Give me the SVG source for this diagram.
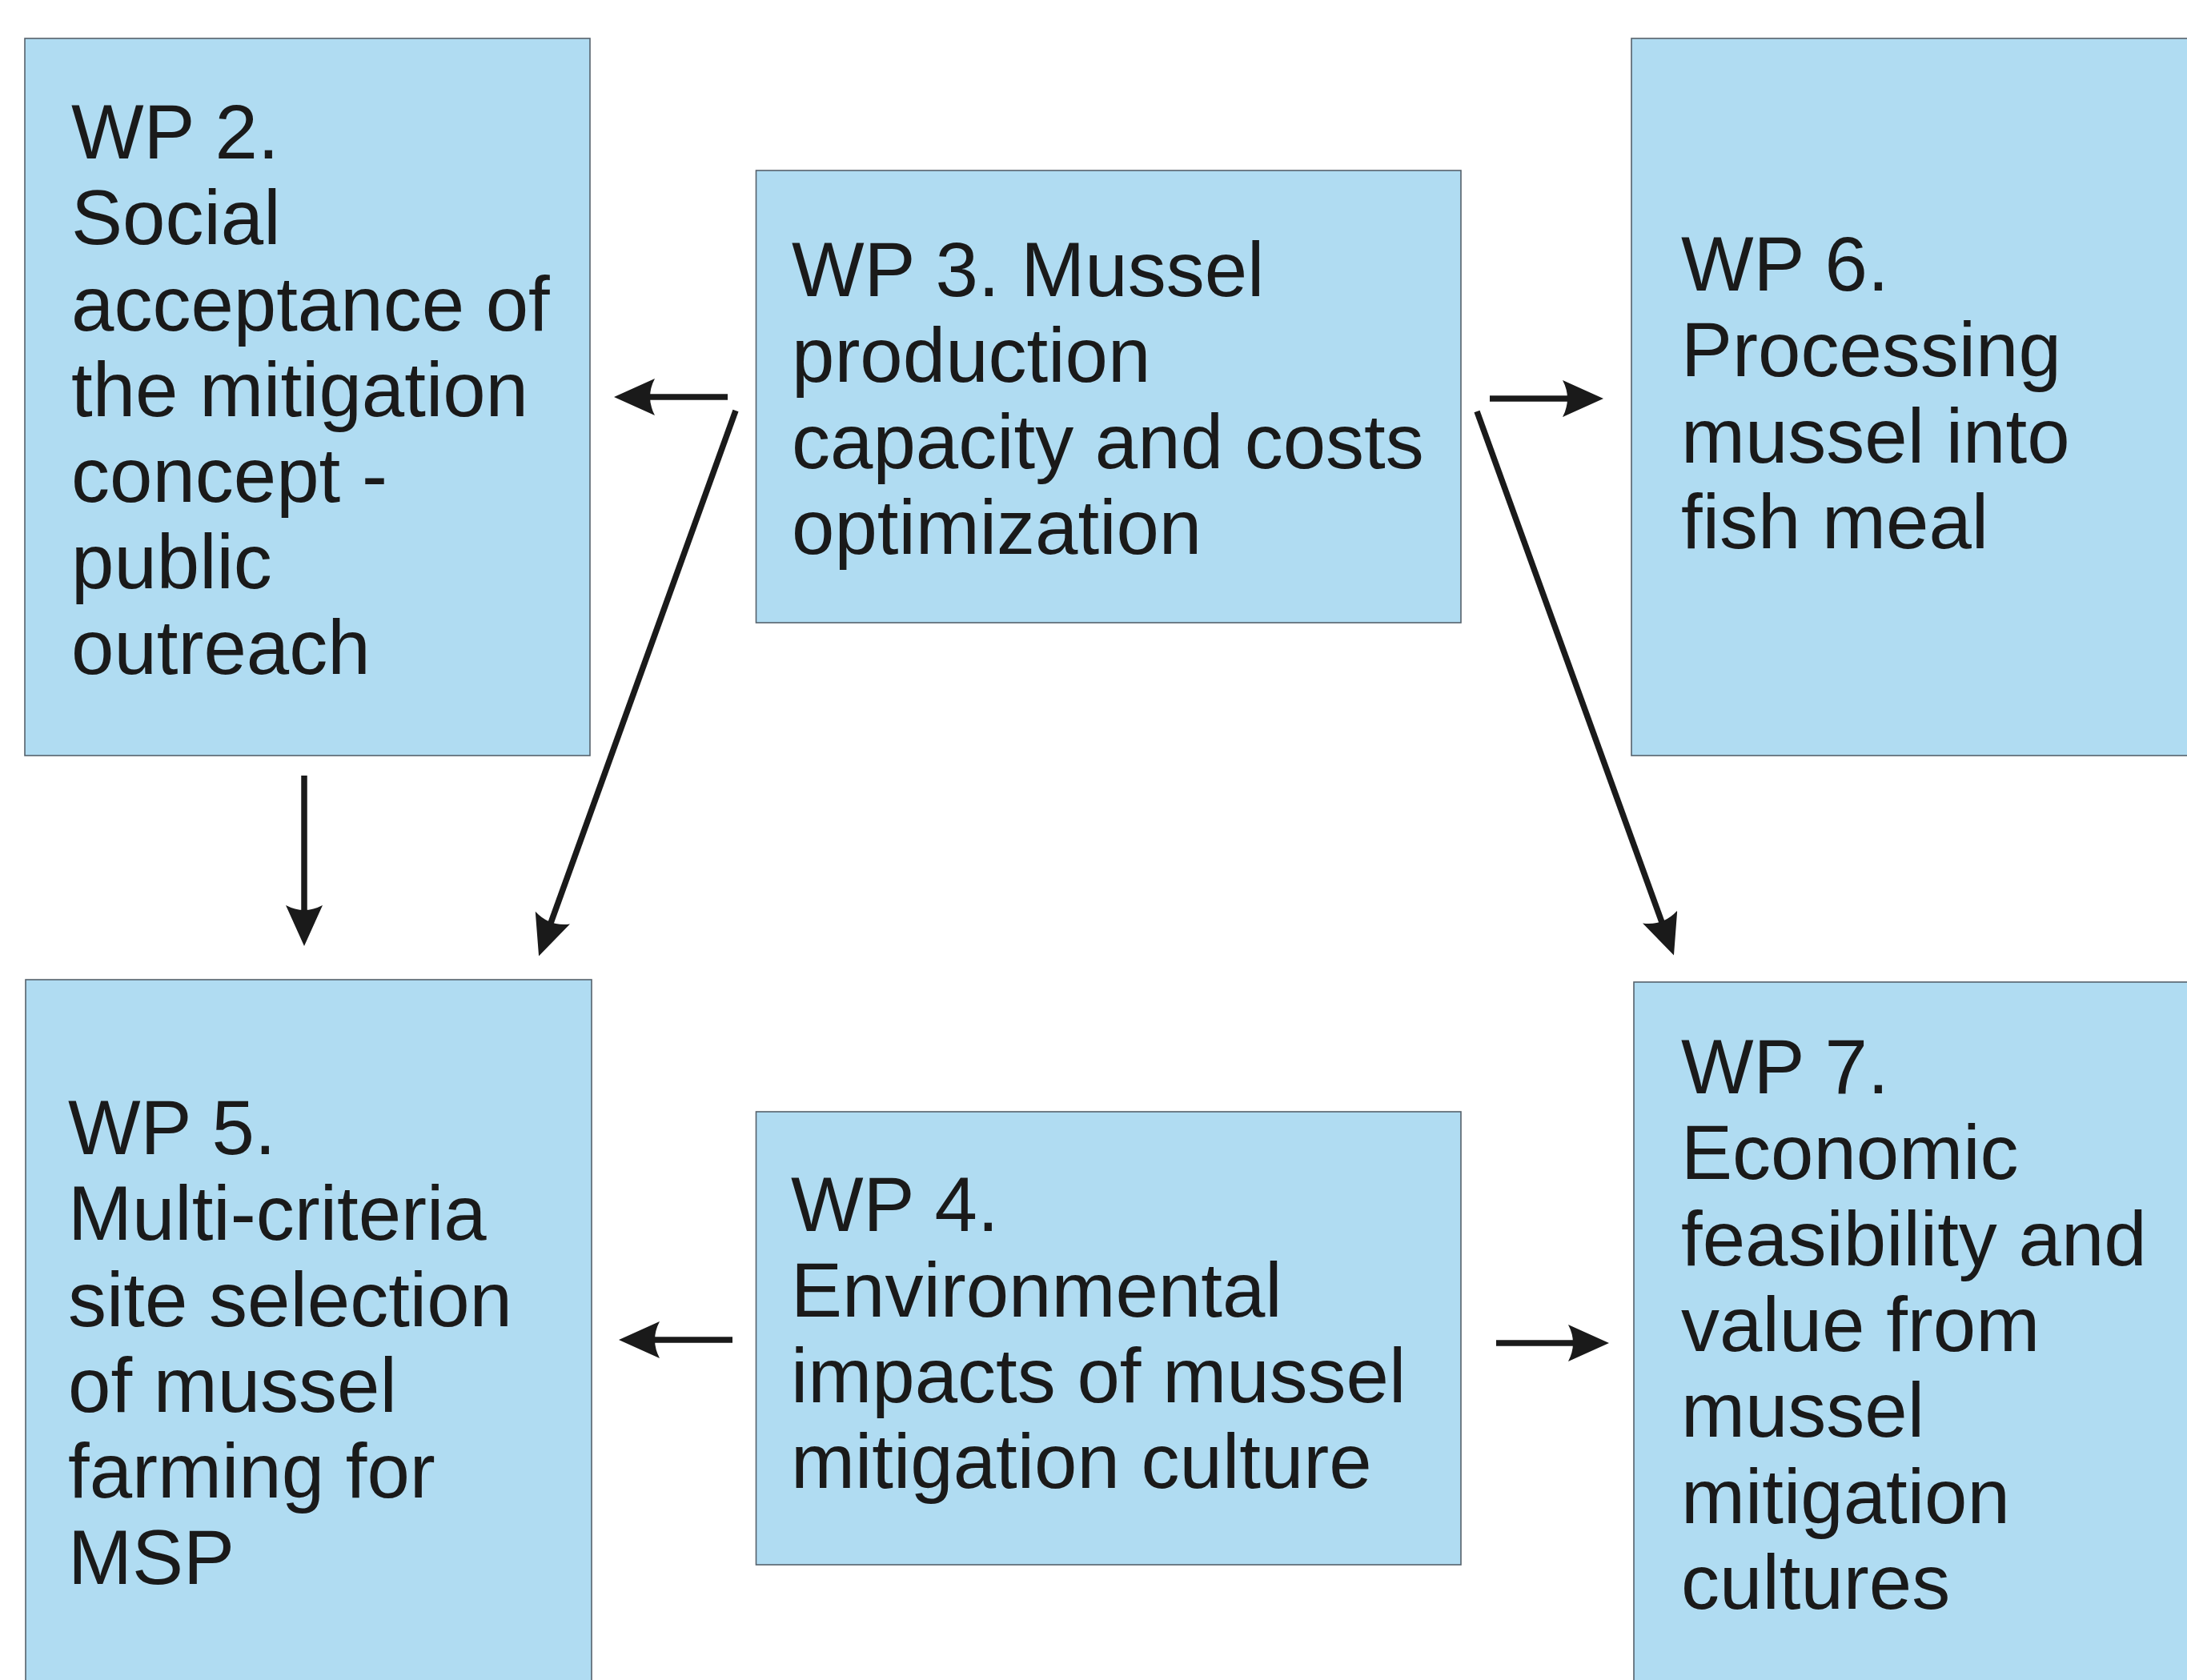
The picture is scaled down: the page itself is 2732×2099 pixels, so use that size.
<svg xmlns="http://www.w3.org/2000/svg" width="2732" height="2099" viewBox="0 0 2732 2099">
<style>
.box{fill:#b0dcf2;stroke:#56626c;stroke-width:1.6}
.t{font-family:"Liberation Sans",Arial,sans-serif;font-size:96px;fill:#1a1a1a}
.c{stroke:#1a1a1a;stroke-width:7.5;fill:none;marker-end:url(#ah)}
</style>
<defs>
<marker id="ah" viewBox="0 0 51 46" refX="10" refY="23" markerWidth="51" markerHeight="46" markerUnits="userSpaceOnUse" orient="auto">
<path d="M0,0 L51,23 L0,46 Q12,23 0,0 Z" fill="#1a1a1a"/>
</marker>
</defs>
<rect x="0" y="0" width="2732" height="2099" fill="#ffffff"/>
<g id="wp2">
<rect class="box" x="31" y="48" width="706" height="896"/>
<text class="t"><tspan x="89" y="198">WP 2.</tspan><tspan x="89" y="305.3">Social</tspan><tspan x="89" y="412.6">acceptance of</tspan><tspan x="89" y="519.9">the mitigation</tspan><tspan x="89" y="627.2">concept -</tspan><tspan x="89" y="734.5">public</tspan><tspan x="89" y="841.8">outreach</tspan></text>
</g>
<g id="wp3">
<rect class="box" x="944.5" y="213" width="880.5" height="565"/>
<text class="t"><tspan x="989" y="370">WP 3. Mussel</tspan><tspan x="989" y="477.3">production</tspan><tspan x="989" y="584.6">capacity and costs</tspan><tspan x="989" y="691.9">optimization</tspan></text>
</g>
<g id="wp6">
<rect class="box" x="2038" y="48" width="720" height="896"/>
<text class="t"><tspan x="2100" y="363">WP 6.</tspan><tspan x="2100" y="470.3">Processing</tspan><tspan x="2100" y="577.6">mussel into</tspan><tspan x="2100" y="684.9">fish meal</tspan></text>
</g>
<g id="wp5">
<rect class="box" x="32" y="1224" width="707" height="900"/>
<text class="t"><tspan x="85" y="1442">WP 5.</tspan><tspan x="85" y="1549.3">Multi-criteria</tspan><tspan x="85" y="1656.6">site selection</tspan><tspan x="85" y="1763.9">of mussel</tspan><tspan x="85" y="1871.2">farming for</tspan><tspan x="85" y="1978.5">MSP</tspan></text>
</g>
<g id="wp4">
<rect class="box" x="944.5" y="1389" width="880.5" height="566"/>
<text class="t"><tspan x="988" y="1537.5">WP 4.</tspan><tspan x="988" y="1644.8">Environmental</tspan><tspan x="988" y="1752.1">impacts of mussel</tspan><tspan x="988" y="1859.4">mitigation culture</tspan></text>
</g>
<g id="wp7">
<rect class="box" x="2041" y="1227" width="720" height="900"/>
<text class="t"><tspan x="2100" y="1366">WP 7.</tspan><tspan x="2100" y="1473.3">Economic</tspan><tspan x="2100" y="1580.6">feasibility and</tspan><tspan x="2100" y="1687.9">value from</tspan><tspan x="2100" y="1795.2">mussel</tspan><tspan x="2100" y="1902.5">mitigation</tspan><tspan x="2100" y="2009.8">cultures</tspan></text>
</g>
<g id="connectors">
<line class="c" x1="909" y1="496" x2="808" y2="496"/>
<line class="c" x1="1861" y1="498" x2="1962" y2="498"/>
<line class="c" x1="380" y1="969" x2="380" y2="1141"/>
<line class="c" x1="919" y1="513" x2="687" y2="1156"/>
<line class="c" x1="1845" y1="514" x2="2077" y2="1155"/>
<line class="c" x1="915" y1="1674" x2="814" y2="1674"/>
<line class="c" x1="1869" y1="1678" x2="1969" y2="1678"/>
</g>
</svg>
